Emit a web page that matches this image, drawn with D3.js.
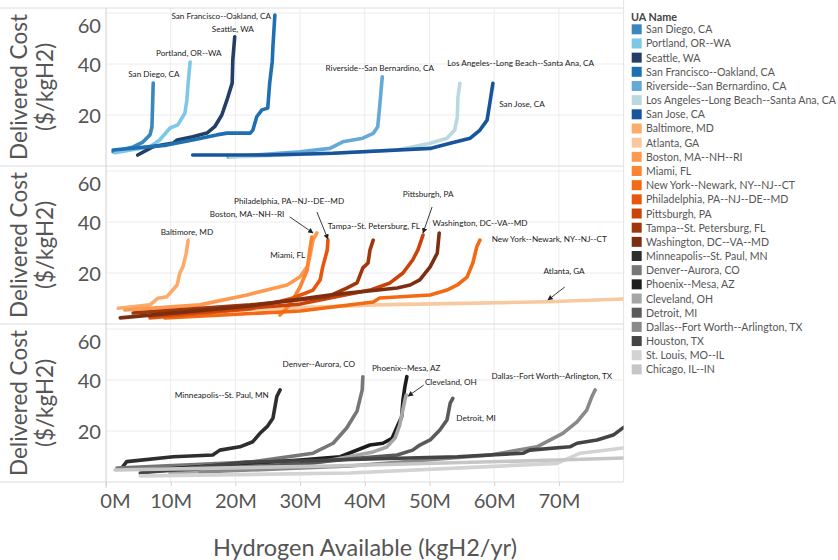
<!DOCTYPE html>
<html><head><meta charset="utf-8">
<script src="https://cdn.jsdelivr.net/npm/d3@7"></script>
<style>
body{margin:0;background:#fff;}
svg{display:block;font-family:Lato,"Open Sans",sans-serif;}
</style></head>
<body><svg id="c" width="838" height="560"></svg>
<script>
// ---------- DATA (x in M kgH2/yr, y in $/kgH2) ----------
const xTicks = [0,10,20,30,40,50,60,70];
const yTicks = [20,40,60];
const paneNames = ["West","East","Other"];

// West
const sanDiego   = [[1.1,5.6],[4.2,7.5],[5.7,9.4],[6.8,12.2],[7.1,15.3],[7.3,32.5]];
const portland   = [[1.4,5.2],[6.8,7.6],[8.3,10.2],[9.9,14.9],[11.1,16.1],[12.2,20.8],[12.5,25.9],[12.7,32.5],[13.0,40.8]];
const seattle    = [[4.9,4.3],[7.3,7.6],[10.4,9.0],[11.0,10.2],[13.4,11.5],[15.6,12.9],[16.8,15.4],[17.9,20.0],[18.7,25.9],[19.5,32.5],[19.6,41.6],[19.9,50.7]];
const sanFran    = [[1.1,6.3],[9.4,8.2],[13.4,10.2],[17.1,12.2],[18.7,12.9],[22.3,12.9],[22.7,14.1],[23.3,19.3],[24.1,22.0],[25.0,22.7],[25.3,32.5],[25.7,41.1],[25.8,46.8],[26.1,59.2]];
const riverside  = [[18.9,3.5],[30.0,5.6],[34.6,6.9],[36.6,9.5],[39.7,10.9],[41.3,12.8],[42.0,15.4],[42.3,23.3],[42.7,35.0]];
const losAngeles = [[19.2,3.5],[34.6,5.0],[45.0,6.3],[50.1,8.9],[52.7,10.9],[53.9,14.1],[54.3,19.3],[54.4,27.2],[54.7,32.4]];
const sanJose    = [[13.4,4.3],[24.9,4.3],[35.1,5.0],[50.1,6.9],[53.2,8.9],[56.3,10.9],[57.8,14.1],[58.9,18.0],[59.4,25.9],[59.8,32.4]];
// East
const baltimore  = [[1.9,6.2],[6.8,7.5],[8.0,10.1],[9.4,10.7],[11.0,15.3],[11.4,19.9],[11.9,22.5],[12.4,27.7],[12.7,32.9]];
const atlanta    = [[7.9,4.2],[20.0,5.5],[34.6,6.8],[41.3,7.5],[55.2,8.1],[68.2,8.7],[80.0,9.8]];
const boston     = [[2.9,5.5],[14.5,7.5],[21.8,11.4],[28.0,15.3],[30.0,18.5],[31.1,22.5],[31.5,26.4],[32.0,32.9],[32.6,35.7]];
const miami      = [[26.9,3.5],[28.4,7.5],[30.0,14.5],[31.1,21.2],[31.5,29.0],[31.8,34.1]];
const newYork    = [[9.1,2.4],[30.0,5.1],[41.3,8.6],[42.3,10.2],[50.1,11.4],[52.7,13.3],[54.3,15.3],[55.8,18.4],[56.7,23.9],[57.3,30.2],[57.8,32.9]];
const philly     = [[6.8,2.4],[22.3,5.9],[28.9,10.2],[32.0,13.3],[33.1,17.3],[33.5,22.4],[34.2,29.0],[34.3,32.9]];
const pittsburgh = [[6.8,3.1],[30.0,7.8],[40.8,13.3],[43.9,16.1],[45.9,20.0],[47.4,25.1],[48.2,29.0],[49.0,34.9]];
const tampa      = [[4.2,4.3],[22.3,7.5],[34.2,10.6],[37.2,14.1],[38.8,16.1],[39.7,22.0],[40.5,23.9],[40.8,29.0],[41.3,32.9]];
const washington = [[2.2,2.4],[22.3,7.1],[34.6,11.4],[37.7,12.2],[45.0,14.1],[47.0,15.3],[48.5,17.3],[50.1,22.4],[51.2,27.8],[51.5,35.7]];
// Other
const minneapolis= [[2.6,6.0],[3.2,8.0],[10.4,9.9],[16.5,10.6],[17.6,12.5],[20.7,13.8],[22.7,15.8],[23.8,19.1],[24.9,21.7],[25.8,25.0],[26.4,33.5],[26.9,36.1]];
const denver     = [[1.7,5.5],[22.3,7.8],[32.0,11.3],[35.1,15.2],[37.2,21.2],[38.8,27.8],[39.6,36.1],[39.7,41.3]];
const phoenix    = [[6.8,4.7],[30.0,8.6],[36.2,9.9],[40.8,14.5],[42.8,15.2],[44.2,17.1],[45.0,21.7],[45.7,25.6],[45.9,32.2],[46.2,37.4],[46.5,41.3]];
const cleveland  = [[9.9,3.5],[30.0,6.3],[41.3,11.8],[43.4,13.7],[44.7,17.3],[45.4,22.4],[46.2,32.2],[46.4,34.1]];
const detroit    = [[8.3,4.3],[30.0,7.1],[38.8,9.3],[45.0,10.6],[47.4,12.5],[48.5,14.5],[50.1,16.5],[51.6,20.4],[52.7,24.3],[53.2,30.9],[53.6,32.8]];
const dallas     = [[14.5,3.9],[37.7,6.3],[59.4,10.6],[66.6,13.8],[70.6,19.1],[72.8,23.6],[74.3,28.2],[75.1,33.5],[75.6,36.1]];
const houston    = [[5.3,3.5],[21.8,7.8],[54.3,9.9],[64.5,11.3],[65.5,12.5],[71.7,13.8],[72.8,15.2],[75.9,16.5],[78.4,18.4],[80.0,21.4]];
const stLouis    = [[5.3,2.4],[37.7,3.5],[69.7,7.3],[73.3,11.3],[80.0,13.3]];
const chicago    = [[1.4,4.7],[34.6,6.3],[69.7,8.6],[80.0,9.4]];

const uaNames = ["San Diego, CA","Portland, OR--WA","Seattle, WA","San Francisco--Oakland, CA","Riverside--San Bernardino, CA","Los Angeles--Long Beach--Santa Ana, CA","San Jose, CA",
 "Baltimore, MD","Atlanta, GA","Boston, MA--NH--RI","Miami, FL","New York--Newark, NY--NJ--CT","Philadelphia, PA--NJ--DE--MD","Pittsburgh, PA","Tampa--St. Petersburg, FL","Washington, DC--VA--MD",
 "Minneapolis--St. Paul, MN","Denver--Aurora, CO","Phoenix--Mesa, AZ","Cleveland, OH","Detroit, MI","Dallas--Fort Worth--Arlington, TX","Houston, TX","St. Louis, MO--IL","Chicago, IL--IN"];
const uaPane = [0,0,0,0,0,0,0, 1,1,1,1,1,1,1,1,1, 2,2,2,2,2,2,2,2,2];
const uaValues = [sanDiego,portland,seattle,sanFran,riverside,losAngeles,sanJose,
 baltimore,atlanta,boston,miami,newYork,philly,pittsburgh,tampa,washington,
 minneapolis,denver,phoenix,cleveland,detroit,dallas,houston,stLouis,chicago];
const uaColors = ["#3a86bf","#7dc8e6","#233f68","#1f70b2","#65a9d8","#b9d9df","#18549c",
 "#fdab6b","#f8c99e","#fd9a50","#fd8433","#f36a15","#e6560b","#c9430a","#a0360a","#7e2e10",
 "#2e2e2e","#777777","#1c1c1c","#a6a6a6","#5a5a5a","#898989","#444444","#d3d3d3","#c6c6c6"];

// annotations: [text, pane, x, y, arrowFrom?, arrowTo?]
const notes = [
 ["San Francisco--Oakland, CA",0,17.8,58.8],
 ["Seattle, WA",0,19.6,53.7],
 ["Portland, OR--WA",0,12.8,44.3],
 ["San Diego, CA",0,7.4,36.1],
 ["Riverside--San Bernardino, CA",0,42.3,38.4],
 ["Los Angeles--Long Beach--Santa Ana, CA",0,64.1,40.4],
 ["San Jose, CA",0,64.3,24.3],
 ["Philadelphia, PA--NJ--DE--MD",1,28.3,48.2,[32.6,43.9],[34.3,33.3]],
 ["Boston, MA--NH--RI",1,21.8,43.1,[28.4,42.0],[32.0,35.7]],
 ["Baltimore, MD",1,12.5,36.1],
 ["Miami, FL",1,28.1,27.1],
 ["Tampa--St. Petersburg, FL",1,41.4,38.4],
 ["Pittsburgh, PA",1,49.8,51.0,[50.4,45.9],[49.0,35.7]],
 ["Washington, DC--VA--MD",1,57.8,39.6],
 ["New York--Newark, NY--NJ--CT",1,68.5,33.3],
 ["Atlanta, GA",1,70.8,20.8,[70.9,14.5],[68.3,9.4]],
 ["Denver--Aurora, CO",2,32.9,46.3],
 ["Minneapolis--St. Paul, MN",2,17.9,34.1],
 ["Phoenix--Mesa, AZ",2,46.4,44.7],
 ["Cleveland, OH",2,53.3,39.2,[49.1,38.0],[46.7,33.7]],
 ["Detroit, MI",2,57.2,25.1],
 ["Dallas--Fort Worth--Arlington, TX",2,68.9,41.6]
];

// ---------- LAYOUT ----------
const svg = d3.select("#c");
const FONT = 'Lato,"Open Sans",sans-serif';
function fit(str, target, weight){
  const t = svg.append("text").attr("font-size",20).attr("font-weight",weight||400).style("font-family",FONT).text(str);
  const w = t.node().getComputedTextLength(); t.remove();
  return 20*target/w;
}
const L = 106, R = 623.6;
const panes = [{top:8,bottom:166},{top:166,bottom:324},{top:324,bottom:482}];
const x = d3.scaleLinear().domain([0,80]).range([L,R]);
const ys = panes.map(p => d3.scaleLinear().domain([0,60]).range([p.bottom,p.top+5]));

const tickSize = fit("70M",42);
const noteSize = fit("Dallas--Fort Worth--Arlington, TX",121);
const legSize = fit("Los Angeles--Long Beach--Santa Ana, CA",190);
const ytitleSize = fit("Delivered Cost",146);
const xtitleSize = fit("Hydrogen Available (kgH2/yr)",304);

// grid + panes
panes.forEach((p,i)=>{
  const g = svg.append("g");
  g.selectAll("line.v").data(xTicks.filter(d=>d>0)).join("line")
    .attr("x1",d=>x(d)).attr("x2",d=>x(d)).attr("y1",p.top).attr("y2",p.bottom)
    .attr("stroke","#ececec").attr("stroke-width",1);
  g.selectAll("line.h").data(yTicks).join("line")
    .attr("x1",L).attr("x2",R).attr("y1",d=>ys[i](d)).attr("y2",d=>ys[i](d))
    .attr("stroke","#ececec").attr("stroke-width",1);
  // pane separator
  g.append("line").attr("x1",0).attr("x2",R).attr("y1",p.top).attr("y2",p.top).attr("stroke","#dcdcdc");
  // y axis
  const ax = svg.append("g").attr("transform",`translate(${L},0)`).call(d3.axisLeft(ys[i]).tickValues(yTicks).tickSize(0).tickPadding(5));
  ax.select(".domain").remove();
  ax.selectAll("text").attr("font-size",tickSize).attr("fill","#555").style("font-family",FONT)
    .attr("dy",d=> d===60 ? "0.95em":"0.35em");
  // y title
  const cy = (p.top+p.bottom)/2;
  svg.append("text").attr("transform",`translate(27,${cy}) rotate(-90)`).attr("text-anchor","middle")
    .attr("font-size",ytitleSize).attr("fill","#555").text("Delivered Cost");
  svg.append("text").attr("transform",`translate(53,${cy}) rotate(-90)`).attr("text-anchor","middle")
    .attr("font-size",ytitleSize).attr("fill","#555").text("($/kgH2)");
});
svg.append("line").attr("x1",0).attr("x2",R).attr("y1",482).attr("y2",482).attr("stroke","#dcdcdc");
svg.append("line").attr("x1",L).attr("x2",L).attr("y1",8).attr("y2",488).attr("stroke","#d0d0d0");
svg.append("line").attr("x1",R).attr("x2",R).attr("y1",0).attr("y2",482).attr("stroke","#e4e4e4");

// x axis
const xa = svg.append("g").attr("transform","translate(0,482)")
  .call(d3.axisBottom(x).tickValues(xTicks).tickFormat(d=>d+"M").tickSize(4).tickPadding(8));
xa.select(".domain").remove();
xa.selectAll("line").attr("stroke","#d0d0d0");
xa.selectAll("text").attr("font-size",tickSize).attr("fill","#555").style("font-family",FONT)
  .attr("dx",d=> d===0 ? 9 : 0);
svg.append("text").attr("x",365).attr("y",547).attr("text-anchor","middle").attr("dominant-baseline","central")
  .attr("font-size",xtitleSize).attr("fill","#555").text("Hydrogen Available (kgH2/yr)");

// lines
const clipId = "clip";
svg.append("clipPath").attr("id",clipId).append("rect").attr("x",L).attr("y",0).attr("width",R-L).attr("height",482);
const lg = svg.append("g").attr("clip-path",`url(#${clipId})`);
uaValues.forEach((vals,i)=>{
  const yS = ys[uaPane[i]];
  const line = d3.line().x(d=>x(d[0])).y(d=>yS(d[1]));
  lg.append("path").attr("d",line(vals)).attr("fill","none").attr("stroke",uaColors[i])
    .attr("stroke-width",3.6).attr("stroke-linejoin","round").attr("stroke-linecap","round");
});

// arrows + annotations
svg.append("defs").append("marker").attr("id","arr").attr("viewBox","0 0 10 10").attr("refX",9).attr("refY",5)
  .attr("markerWidth",6).attr("markerHeight",6).attr("orient","auto")
  .append("path").attr("d","M0,0 L10,5 L0,10 z").attr("fill","#222");
notes.forEach(n=>{
  const yS = ys[n[1]];
  if(n[4]){
    svg.append("line").attr("x1",x(n[4][0])).attr("y1",yS(n[4][1])).attr("x2",x(n[5][0])).attr("y2",yS(n[5][1]))
      .attr("stroke","#222").attr("stroke-width",0.9).attr("marker-end","url(#arr)");
  }
  svg.append("text").attr("x",x(n[2])).attr("y",yS(n[3])).attr("text-anchor","middle").attr("dominant-baseline","central")
    .attr("font-size",noteSize).attr("fill","#222").text(n[0]);
});

// legend
svg.append("text").attr("x",631).attr("y",16).attr("dominant-baseline","central").attr("font-weight",700)
  .attr("font-size",legSize*1.02).attr("fill","#444").text("UA Name");
const leg = svg.append("g");
uaNames.forEach((nm,i)=>{
  const cy = 29.3 + i*14.17;
  leg.append("rect").attr("x",631.7).attr("y",cy-5).attr("width",10).attr("height",10).attr("fill",uaColors[i]);
  leg.append("text").attr("x",646).attr("y",cy).attr("dominant-baseline","central")
    .attr("font-size",legSize).attr("fill","#555").text(nm);
});
svg.selectAll("text").style("font-family",FONT);
</script></body></html>
